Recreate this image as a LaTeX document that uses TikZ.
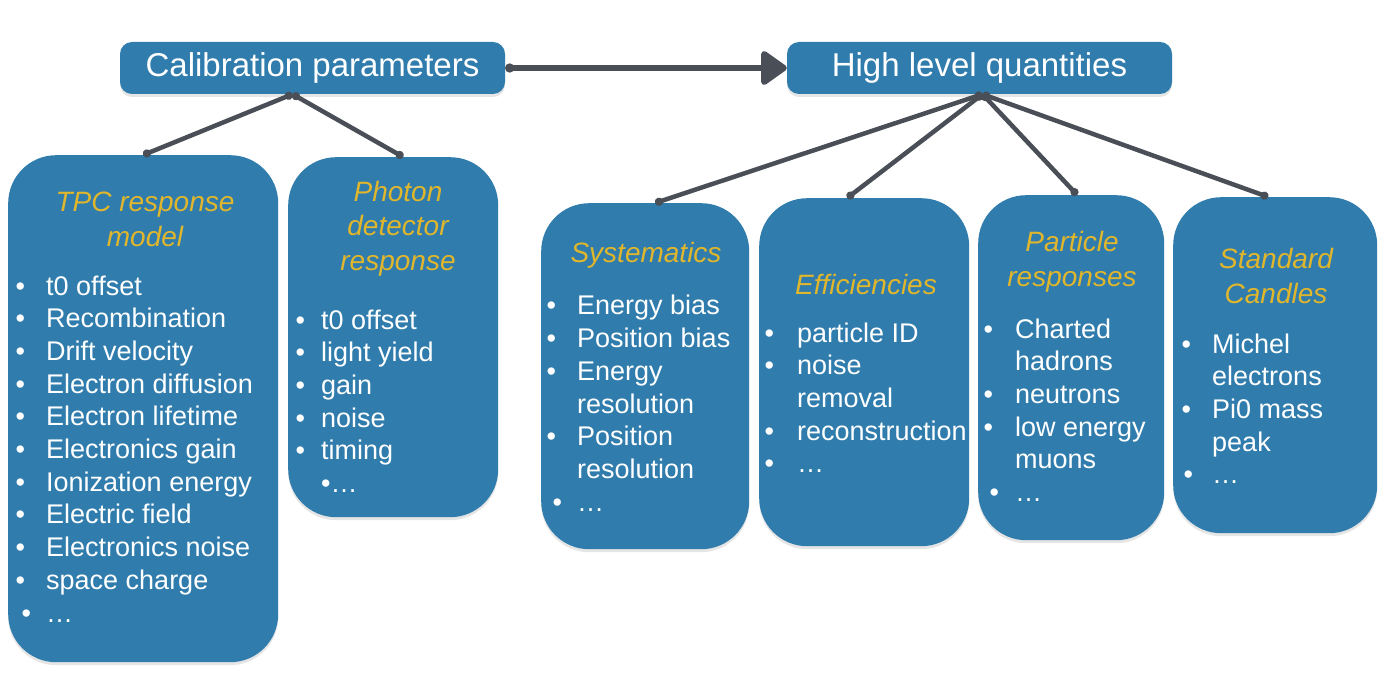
\documentclass[tikz,border=0pt]{standalone}
\usepackage{fontspec}
\setmainfont{Liberation Sans}
\usepackage{tikz}
\usetikzlibrary{
	arrows.meta,
	shadows
}
\definecolor{boxblue}{RGB}{47,124,173}
\definecolor{headyellow}{RGB}{224,182,44}
\definecolor{linkgray}{RGB}{74,79,87}
\tikzset{
	topbox/.style={
		fill=boxblue, rounded corners=12pt, minimum height=52pt,
		text=white, font=\fontsize{33}{38}\selectfont,
		drop shadow={shadow xshift=0pt, shadow yshift=-3pt, opacity=0.2}
	},
	listbox/.style={
		fill=boxblue, rounded corners=48pt, anchor=north west,
		drop shadow={shadow xshift=0pt, shadow yshift=-3pt, opacity=0.2}
	},
	head/.style={
		align=center, inner sep=0pt, text=headyellow,
		font=\fontsize{28}{34.5}\selectfont\itshape
	},
	items/.style={
		anchor=base west, inner sep=0pt, text=white,
		font=\fontsize{27}{32.7}\selectfont
	},
	link/.style={
		draw=linkgray, line width=4.5pt, line cap=round,
		{Circle[length=8pt]}-{Circle[length=8pt]}
	},
	bigarrow/.style={
		draw=linkgray, line width=6pt, line cap=round,
		{Circle[length=9pt]}-{Triangle[length=28pt,width=38pt,round]}
	}
}

\begin{document}
\begin{tikzpicture}[x=1pt, y=-1pt]
	\useasboundingbox (0,0) rectangle (1388,684);
	\fill[white] (0,0) rectangle (1388,684);

	\node[topbox, minimum width=385pt] (calib) at (312.5,68) {Calibration parameters};
	\node[topbox, minimum width=385pt] (hlq)   at (979.5,68) {High level quantities};

	\node[listbox, minimum width=270pt, minimum height=507pt] (tpc) at (8,155)    {};
	\node[listbox, minimum width=210pt, minimum height=360pt] (pho) at (288,157)  {};
	\node[listbox, minimum width=208pt, minimum height=346pt] (sys) at (541,203)  {};
	\node[listbox, minimum width=210pt, minimum height=348pt] (eff) at (759,198)  {};
	\node[listbox, minimum width=186pt, minimum height=345pt] (par) at (978,195)  {};
	\node[listbox, minimum width=204pt, minimum height=336pt] (can) at (1173,197) {};

	\node[head] (tpchead) at (145,219.5) {TPC response\\model};
	\node[head] (phohead) at (398,228.5) {Photon\\detector\\response};
	\node[head] (syshead) at (646,255)   {Systematics};
	\node[head] (effhead) at (866,284)   {Efficiencies};
	\node[head] (parhead) at (1072,262)  {Particle\\responses};
	\node[head] (canhead) at (1276,276)  {Standard\\Candles};

	\node[items] (tpclist) at (15.5,295) {\begin{tabular}[t]{@{}p{30.5pt}@{}l@{}}
		\textbullet & t0 offset\\
		\textbullet & Recombination\\
		\textbullet & Drift velocity\\
		\textbullet & Electron diffusion\\
		\textbullet & Electron lifetime\\
		\textbullet & Electronics gain\\
		\textbullet & Ionization energy\\
		\textbullet & Electric field\\
		\textbullet & Electronics noise\\
		\textbullet & space charge\\
		\hspace{6pt}\textbullet & …
	\end{tabular}};
	\node[items] (pholist) at (295.5,329) {\begin{tabular}[t]{@{}p{25.5pt}@{}l@{}}
		\textbullet & t0 offset\\
		\textbullet & light yield\\
		\textbullet & gain\\
		\textbullet & noise\\
		\textbullet & timing\\
		 & \textbullet…
	\end{tabular}};
	\node[items] (syslist) at (546.5,315) {\begin{tabular}[t]{@{}p{30.5pt}@{}l@{}}
		\textbullet & Energy bias\\
		\textbullet & Position bias\\
		\textbullet & Energy\\
		 & resolution\\
		\textbullet & Position\\
		 & resolution\\
		\hspace{6pt}\textbullet & …
	\end{tabular}};
	\node[items] (efflist) at (764.5,342) {\begin{tabular}[t]{@{}p{32.5pt}@{}l@{}}
		\textbullet & particle ID\\
		\textbullet & noise\\
		 & removal\\
		\textbullet & reconstruction\\
		\textbullet & …
	\end{tabular}};
	\node[items] (parlist) at (983.5,338) {\begin{tabular}[t]{@{}p{31.5pt}@{}l@{}}
		\textbullet & Charted\\
		 & hadrons\\
		\textbullet & neutrons\\
		\textbullet & low energy\\
		 & muons\\
		\hspace{6pt}\textbullet & …
	\end{tabular}};
	\node[items] (canlist) at (1181.5,353) {\begin{tabular}[t]{@{}p{30.5pt}@{}l@{}}
		\textbullet & Michel\\
		 & electrons\\
		\textbullet & Pi0 mass\\
		 & peak\\
		\hspace{2pt}\textbullet & …
	\end{tabular}};

	\draw[bigarrow] (calib.east) -- (hlq.west);

	\draw[link] ([xshift=-20pt]calib.south) -- (tpc.north);
	\draw[link] ([xshift=-20pt]calib.south) -- ([xshift=10pt]pho.north);
	\foreach \grp/\dx in {sys/10, eff/-17, par/6, can/-7}
		\draw[link] ([xshift=3pt]hlq.south) -- ([xshift=\dx pt]\grp.north);
\end{tikzpicture}
\end{document}
